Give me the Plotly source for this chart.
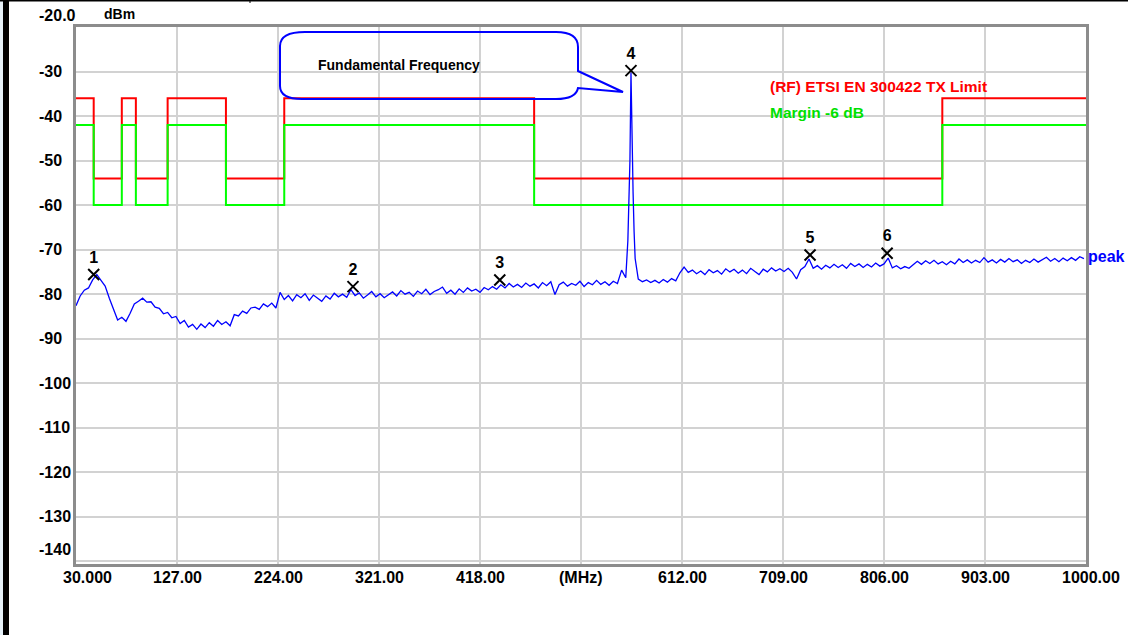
import plotly.graph_objects as go
import pandas as pd

# ---------------- data ----------------
sweep_start_mhz = 30
sweep_step_mhz = 4
# peak-detector trace, one reading every 4 MHz from 30 MHz
trace_levels = [
    -82.6, -80.4, -79.1, -78.6, -76.8, -75.6, -76.9, -78.2, -80.9, -83.4,
    -85.8, -85.2, -86.1, -84.3, -82.2, -81.6, -80.9, -81.8, -81.7, -82.9,
    -83.2, -84.4, -84.1, -85.3, -85.0, -86.6, -85.9, -87.4, -86.8, -87.9,
    -86.7, -87.5, -86.4, -87.2, -85.9, -86.8, -86.2, -87.1, -84.6, -84.9,
    -83.8, -84.3, -83.1, -82.9, -83.4, -82.2, -82.8, -82.0, -83.1, -79.6,
    -81.2, -80.3, -81.5, -80.1, -80.8, -79.9, -81.4, -80.2, -80.9, -81.6,
    -80.4, -81.1, -79.8, -80.6, -80.0, -80.7, -79.0, -80.3, -79.7, -80.9,
    -80.2, -79.4, -80.6, -79.9, -80.8, -80.1, -79.5, -80.4, -79.2, -80.0,
    -79.6, -80.5, -79.3, -79.9, -78.9, -80.1, -79.4, -79.0, -78.4, -79.8,
    -79.1, -80.0, -78.8, -79.6, -78.6, -79.3, -78.9, -79.6, -78.5, -79.0,
    -78.3, -78.9, -77.9, -78.6, -77.6, -78.4, -77.8, -78.5, -77.5, -78.2,
    -77.7, -78.6, -77.4, -78.1, -77.2, -80.1, -77.9, -77.3, -78.2, -77.6,
    -78.0, -77.1, -78.3, -77.4, -77.9, -76.9, -77.8, -77.2, -78.0, -77.1,
    -77.6, -74.6, -76.3, -50.0, -66.0, -76.6, -77.2, -76.8, -77.4, -76.9,
    -77.5, -76.7, -77.3, -76.5, -77.0, -75.2, -73.9, -75.1, -74.6, -75.4,
    -74.8, -75.6, -74.5, -75.2, -74.7, -75.5, -74.3, -75.0, -74.4, -75.3,
    -74.6, -75.4, -74.2, -74.9, -75.6, -74.4, -75.0, -74.1, -74.8, -74.3,
    -74.9, -74.2, -75.1, -76.6, -74.5, -73.8, -72.1, -74.2, -73.6, -74.4,
    -73.5, -74.1, -73.3, -74.0, -73.4, -74.2, -73.1, -73.8, -73.2, -74.0,
    -73.3, -73.9, -73.0, -73.7, -73.2, -71.9, -74.1, -73.6, -74.3, -73.8,
    -74.2, -73.4, -72.6, -73.3, -72.5, -73.1, -72.4, -73.2, -72.7, -73.4,
    -72.6, -73.2, -72.1, -72.9, -72.3, -73.0, -72.4, -72.9, -71.8, -72.8,
    -72.3, -73.0, -72.2, -72.8, -72.0, -72.7, -72.3, -73.1, -72.4, -72.9,
    -72.1, -72.8, -72.3, -71.7, -72.6, -72.0, -72.7, -71.9, -72.5, -71.8,
    -72.4, -71.6, -72.0,
]
# extra readings around the fundamental (MHz, dBm)
spike_freq = [560, 561, 563, 564, 565, 567]
spike_level = [-68.0, -57.0, -30.2, -50.0, -57.0, -72.0]

# ETSI EN 300 422 TX spurious limit (band edges in MHz, level in dBm)
limit_edges = [30, 47, 74, 87.5, 118, 174, 230, 470, 862, 1000]
limit_levels = [-36, -54, -36, -54, -36, -54, -36, -54, -36]
margin_db = -6

marker_freq = [47, 296, 437, 563, 735, 809]
marker_level = [-75.6, -78.3, -76.8, -29.8, -71.2, -70.8]
marker_label = ["1", "2", "3", "4", "5", "6"]

x_tick_vals = [30, 127, 224, 321, 418, 515, 612, 709, 806, 903, 1000]
x_tick_text = ["30.000", "127.00", "224.00", "321.00", "418.00", "(MHz)",
               "612.00", "709.00", "806.00", "903.00", "1000.00"]
y_tick_vals = [-20, -30, -40, -50, -60, -70, -80, -90, -100, -110, -120, -130, -140]
y_tick_text = ["-20.0", "-30", "-40", "-50", "-60", "-70", "-80", "-90",
               "-100", "-110", "-120", "-130", "-140"]

limit_name = "(RF) ETSI EN 300422 TX Limit"
margin_name = "Margin -6 dB"
callout_text = "Fundamental Frequency"

# ---------------- geometry helpers ----------------
W, H = 1137, 635
ML, MR, MT, MB = 76, 51, 27, 71
PW, PH = W - ML - MR, H - MT - MB
XR = [30, 1000]
YR = [-140.6, -20]

def px_x(px):  # pixel -> paper x
    return (px - ML) / PW

def px_y(py):  # pixel -> paper y
    return (H - MB - py) / PH

def dx(px):  # pixel -> data x
    return XR[0] + (px - ML) / PW * (XR[1] - XR[0])

def dy(py):  # pixel -> data y
    return YR[1] - (py - MT) / PH * (YR[1] - YR[0])

FONT = "Liberation Sans, Arial, sans-serif"

# ---------------- build the trace ----------------
grid_freq = [sweep_start_mhz + sweep_step_mhz * i for i in range(len(trace_levels))]
trace = pd.concat([
    pd.Series(trace_levels, index=grid_freq),
    pd.Series(spike_level, index=spike_freq),
]).sort_index()

fig = go.Figure()

fig.add_trace(go.Scatter(
    x=limit_edges, y=limit_levels + [limit_levels[-1]], mode="lines",
    line=dict(color="#ff0000", width=2, shape="hv"), name=limit_name))
fig.add_trace(go.Scatter(
    x=limit_edges, y=[v + margin_db for v in limit_levels] + [limit_levels[-1] + margin_db],
    mode="lines", line=dict(color="#00ff00", width=2, shape="hv"), name=margin_name))
fig.add_trace(go.Scatter(
    x=list(trace.index), y=list(trace.values), mode="lines",
    line=dict(color="#0000ff", width=1.3), name="peak"))
fig.add_trace(go.Scatter(
    x=marker_freq, y=marker_level, mode="markers+text", text=marker_label,
    textposition="top center",
    textfont=dict(family=FONT, size=16, color="black", weight="bold"),
    marker=dict(symbol="x-thin", size=11, color="black",
                line=dict(width=2, color="black")),
    name="markers"))

ann = []
for v, t in zip(x_tick_vals, x_tick_text):
    shift = 11 if v == x_tick_vals[0] else (5 if v == x_tick_vals[-1] else 0)
    ann.append(dict(x=v, xref="x", y=0, yref="paper", yanchor="top", xanchor="center",
                    yshift=-3, xshift=shift, text=t, showarrow=False,
                    font=dict(family=FONT, size=16, color="black", weight="bold")))
for v, t in zip(y_tick_vals, y_tick_text):
    shift = 12 if v in (y_tick_vals[0], y_tick_vals[-1]) else 0
    ann.append(dict(x=px_x(37), xref="paper", y=v, yref="y", xanchor="left",
                    yanchor="middle", yshift=shift, text=t, showarrow=False,
                    font=dict(family=FONT, size=16, color="black", weight="bold")))
ann.append(dict(x=px_x(102), xref="paper", y=px_y(14), yref="paper", xanchor="left",
                yanchor="middle", text="dBm", showarrow=False,
                font=dict(family=FONT, size=14, color="black", weight="bold")))
ann.append(dict(x=px_x(768), xref="paper", y=px_y(86), yref="paper", xanchor="left",
                yanchor="middle", text=limit_name, showarrow=False,
                font=dict(family=FONT, size=15.5, color="#ff0000", weight="bold")))
ann.append(dict(x=px_x(768), xref="paper", y=px_y(112.5), yref="paper", xanchor="left",
                yanchor="middle", text=margin_name, showarrow=False,
                font=dict(family=FONT, size=15.5, color="#00e000", weight="bold")))
ann.append(dict(x=px_x(1086), xref="paper", y=px_y(256), yref="paper", xanchor="left",
                yanchor="middle", text="peak", showarrow=False,
                font=dict(family=FONT, size=16, color="#0000ff", weight="bold")))
ann.append(dict(x=px_x(316), xref="paper", y=px_y(65), yref="paper", xanchor="left",
                yanchor="middle", text=callout_text, showarrow=False,
                font=dict(family=FONT, size=14, color="black", weight="bold")))

# callout bubble (pixel outline converted to data units)
pts = [("M", 280, 46), ("Q", 280, 32, 305, 32), ("L", 556, 32), ("Q", 578, 32, 578, 47),
       ("L", 578, 71), ("L", 623, 92), ("L", 578, 88), ("Q", 576, 99, 556, 99),
       ("L", 302, 99), ("Q", 280, 99, 280, 86)]
path = ""
for p in pts:
    cmd, coords = p[0], p[1:]
    xy = []
    for i in range(0, len(coords), 2):
        xy.append(f"{dx(coords[i]):.3f},{dy(coords[i + 1]):.3f}")
    path += cmd + " ".join(xy) + " "
path += "Z"

shapes = [
    dict(type="path", xref="x", yref="y", path=path,
         line=dict(color="#0000ff", width=2), fillcolor="rgba(0,0,0,0)", layer="above"),
    # page frame from the source document
    dict(type="rect", xref="paper", yref="paper", x0=px_x(0), x1=px_x(3), y0=px_y(635),
         y1=px_y(0), fillcolor="#e6f1f9", line=dict(width=0), layer="above"),
    dict(type="rect", xref="paper", yref="paper", x0=px_x(3), x1=px_x(9), y0=px_y(635),
         y1=px_y(0), fillcolor="black", line=dict(width=0), layer="above"),
    dict(type="rect", xref="paper", yref="paper", x0=px_x(0), x1=px_x(1128), y0=px_y(1.5),
         y1=px_y(0), fillcolor="black", line=dict(width=0), layer="above"),
    dict(type="rect", xref="paper", yref="paper", x0=px_x(249.5), x1=px_x(250.5), y0=px_y(3),
         y1=px_y(0), fillcolor="black", line=dict(width=0), layer="above"),
]

axis_common = dict(showgrid=True, gridcolor="#d2d2d2", gridwidth=1.5, zeroline=False,
                   showline=True, linecolor="#8c8c8c", linewidth=3, mirror=True,
                   showticklabels=False, ticks="", fixedrange=True)

fig.update_layout(
    width=W, height=H, autosize=False,
    margin=dict(l=ML, r=MR, t=MT, b=MB),
    paper_bgcolor="white", plot_bgcolor="white",
    showlegend=False,
    xaxis=dict(range=XR, tickvals=x_tick_vals, **axis_common),
    yaxis=dict(range=YR, tickvals=y_tick_vals, **axis_common),
    annotations=ann, shapes=shapes,
    font=dict(family=FONT),
)

fig.write_html("out.html")
